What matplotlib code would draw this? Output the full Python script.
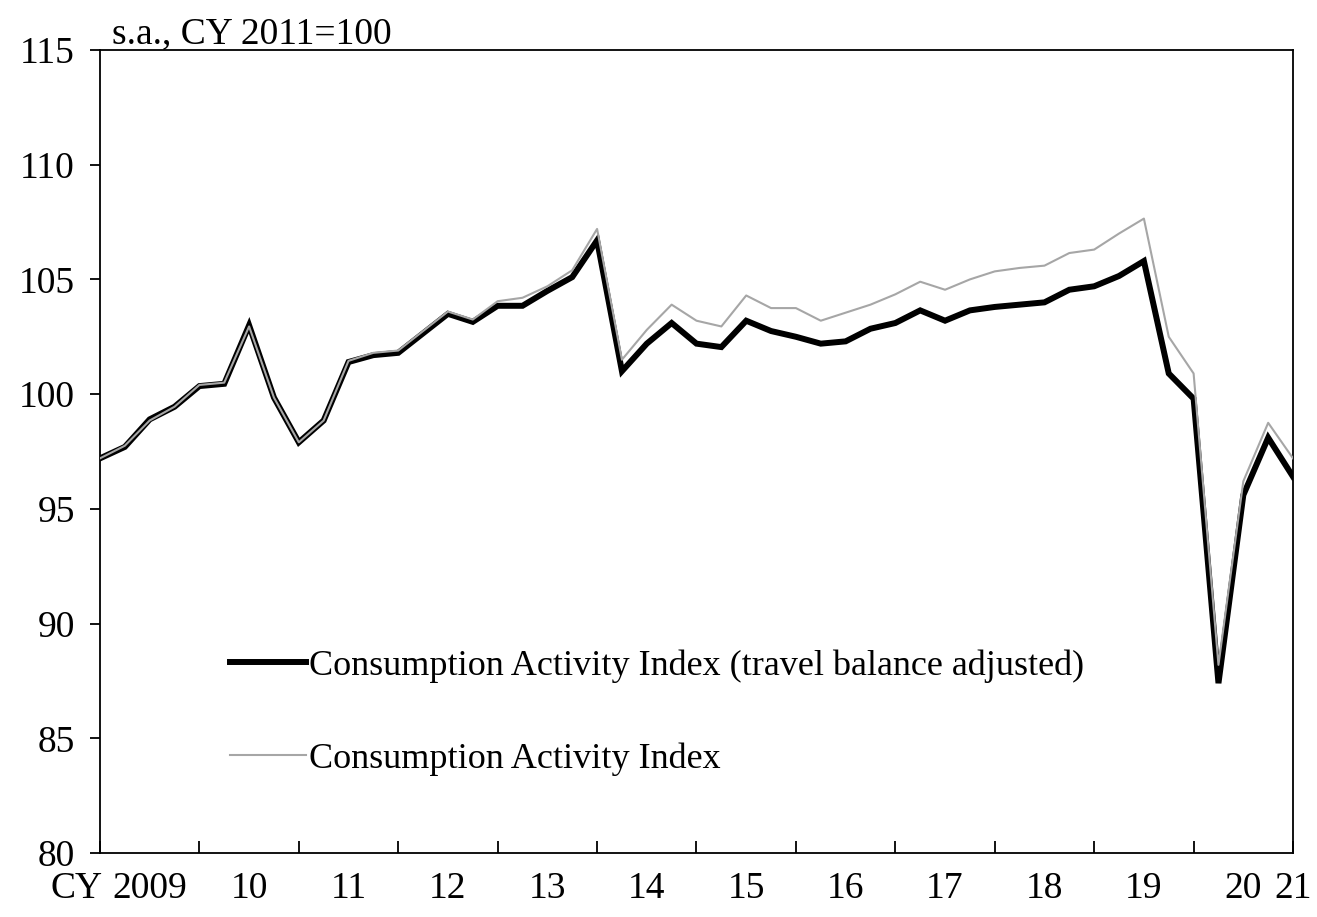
import numpy as np
import matplotlib
matplotlib.use("Agg")
import matplotlib.pyplot as plt

plt.rcParams['font.family'] = ['Liberation Serif', 'DejaVu Serif']
plt.rcParams['font.size'] = 27

# quarterly, 2009Q1 .. 2021Q1
adjusted = [97.2, 97.7, 98.9, 99.45, 100.35, 100.45, 103.0, 99.85,
            97.9, 98.85, 101.4, 101.7, 101.8, 102.65, 103.5, 103.15,
            103.85, 103.85, 104.5, 105.1, 106.7, 101.0, 102.2, 103.1,
            102.2, 102.05, 103.2, 102.75, 102.5, 102.2, 102.3, 102.85,
            103.1, 103.65, 103.2, 103.65, 103.8, 103.9, 104.0, 104.55,
            104.7, 105.15, 105.8, 100.9, 99.8, 87.4, 95.6, 98.1,
            96.4]
index = [97.2, 97.75, 98.85, 99.45, 100.4, 100.5, 102.95, 99.85,
         97.9, 98.85, 101.45, 101.8, 101.9, 102.75, 103.6, 103.25,
         104.05, 104.2, 104.7, 105.4, 107.2, 101.5, 102.8, 103.9,
         103.2, 102.95, 104.3, 103.75, 103.75, 103.2, 103.55, 103.9,
         104.35, 104.9, 104.55, 105.0, 105.35, 105.5, 105.6, 106.15,
         106.3, 107.0, 107.65, 102.5, 100.9, 88.2, 96.2, 98.75,
         97.2]
year_labels = ['2009', '10', '11', '12', '13', '14', '15', '16', '17',
               '18', '19', '20']
last_label = '21'
name_adj = 'Consumption Activity Index (travel balance adjusted)'
name_idx = 'Consumption Activity Index'

q = np.arange(len(adjusted))

fig = plt.figure(figsize=(13.17, 9.17), dpi=100)
ax = fig.add_axes([0.0759, 0.0698, 0.9059, 0.8757])

ax.plot(q, adjusted, color='black', lw=4.3, solid_joinstyle='miter', label=name_adj, zorder=2)
ax.plot(q, index, color='#a6a6a6', lw=1.5, label=name_idx, zorder=3)

ax.set_xlim(0, len(q) - 1)
ax.set_ylim(80, 115)
ax.set_yticks(np.arange(80, 116, 5))

# year boundaries as major ticks, labels between them
ax.set_xticks(np.arange(0, len(q), 4))
ax.set_xticklabels([''] * 12 + [last_label])
ax.set_xticks(np.arange(2, len(q) - 1, 4), minor=True)
ax.set_xticklabels(year_labels, minor=True)
ax.tick_params(axis='x', which='major', direction='in', length=9, width=1.3, pad=13)
ax.tick_params(axis='x', which='minor', length=0, pad=13)
ax.tick_params(axis='y', direction='out', length=7, width=1.3, pad=11)
for s in ax.spines.values():
    s.set_linewidth(1.3)

ax.annotate('CY', xy=(0.12, 0), xycoords=('data', 'axes fraction'),
            xytext=(0, -13), textcoords='offset points', ha='right', va='top')
ax.text(0.01, 0.998, 's.a., CY 2011=100', transform=ax.transAxes, ha='left', va='bottom')

ax.legend(loc='upper left', bbox_to_anchor=(0.109, 0.254), frameon=False,
          fontsize=26, handlelength=2.1, handletextpad=0.1, labelspacing=1.65,
          borderpad=0, borderaxespad=0)

fig.savefig('out.png', dpi=100)
